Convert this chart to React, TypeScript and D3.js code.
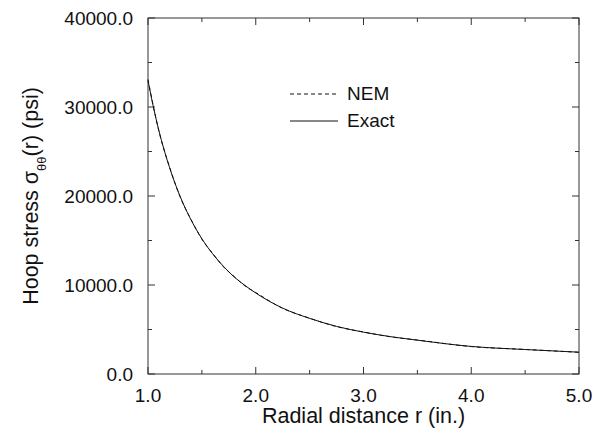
import React from "react";
import * as d3 from "d3";

const radius = [1.0, 1.05, 1.1, 1.2, 1.3, 1.4, 1.5, 1.6, 1.7, 1.8, 1.9, 2.0, 2.25, 2.5, 2.75, 3.0, 3.25, 3.5, 4.0, 4.5, 5.0];
const exact = [32960, 30000, 27400, 23200, 19900, 17300, 15200, 13500, 12100, 10900, 9950, 9100, 7400, 6250, 5350, 4700, 4200, 3800, 3100, 2750, 2450];
const nem = [33100, 30050, 27350, 23250, 19850, 17350, 15150, 13550, 12050, 10950, 9900, 9150, 7380, 6270, 5330, 4720, 4180, 3820, 3080, 2760, 2440];

const xTicks = [1.0, 2.0, 3.0, 4.0, 5.0];
const xMinor = [1.5, 2.5, 3.5, 4.5];
const yTicks = [0, 10000, 20000, 30000, 40000];
const yMinor = [5000, 15000, 25000, 35000];

const W = 594, H = 434;
const L = 148, R = 579, T = 18, B = 374;
const FONT = "'Liberation Sans', Arial, Helvetica, sans-serif";

export default function App() {
  const x = d3.scaleLinear().domain([1, 5]).range([L, R]);
  const y = d3.scaleLinear().domain([0, 40000]).range([B, T]);
  const line = d3
    .line<number>()
    .x((_, i) => x(radius[i]))
    .y((d) => y(d))
    .curve(d3.curveMonotoneX);

  const major = 7, minor = 4;
  return (
    <svg width={W} height={H} style={{ position: "absolute", left: 0, top: 0, background: "#fff" }}>
      <rect x={L} y={T} width={R - L} height={B - T} fill="none" stroke="#333" strokeWidth={1} />
      {xTicks.map((t) => (
        <g key={"xt" + t}>
          <line x1={x(t)} x2={x(t)} y1={B} y2={B - major} stroke="#333" />
          <line x1={x(t)} x2={x(t)} y1={T} y2={T + major} stroke="#333" />
          <text x={x(t)} y={402} textAnchor="middle" fontFamily={FONT} fontSize={19} fill="#111">
            {t.toFixed(1)}
          </text>
        </g>
      ))}
      {xMinor.map((t) => (
        <g key={"xm" + t}>
          <line x1={x(t)} x2={x(t)} y1={B} y2={B - minor} stroke="#333" />
          <line x1={x(t)} x2={x(t)} y1={T} y2={T + minor} stroke="#333" />
        </g>
      ))}
      {yTicks.map((t) => (
        <g key={"yt" + t}>
          <line x1={L} x2={L + major} y1={y(t)} y2={y(t)} stroke="#333" />
          <line x1={R} x2={R - major} y1={y(t)} y2={y(t)} stroke="#333" />
          <text x={133} y={y(t) + 7} textAnchor="end" fontFamily={FONT} fontSize={19} fill="#111">
            {t.toFixed(1)}
          </text>
        </g>
      ))}
      {yMinor.map((t) => (
        <g key={"ym" + t}>
          <line x1={L} x2={L + minor} y1={y(t)} y2={y(t)} stroke="#333" />
          <line x1={R} x2={R - minor} y1={y(t)} y2={y(t)} stroke="#333" />
        </g>
      ))}
      <path d={line(exact) || ""} fill="none" stroke="#111" strokeWidth={1} />
      <path d={line(nem) || ""} fill="none" stroke="#111" strokeWidth={1} strokeDasharray="4,3" />
      <line x1={290} x2={338} y1={94} y2={94} stroke="#111" strokeDasharray="4,3" />
      <text x={347} y={100} fontFamily={FONT} fontSize={19} fill="#111">NEM</text>
      <line x1={290} x2={338} y1={121} y2={121} stroke="#111" />
      <text x={347} y={127} fontFamily={FONT} fontSize={19} fill="#111">Exact</text>
      <text x={(L + R) / 2} y={423} textAnchor="middle" fontFamily={FONT} fontSize={21.5} fill="#111">
        Radial distance r (in.)
      </text>
      <text
        transform={`translate(38, ${(T + B) / 2}) rotate(-90)`}
        textAnchor="middle"
        fontFamily={FONT}
        fontSize={21.5}
        fill="#111"
      >
        Hoop stress σ<tspan baselineShift="sub" fontSize={13}>θθ</tspan>(r) (psi)
      </text>
    </svg>
  );
}
